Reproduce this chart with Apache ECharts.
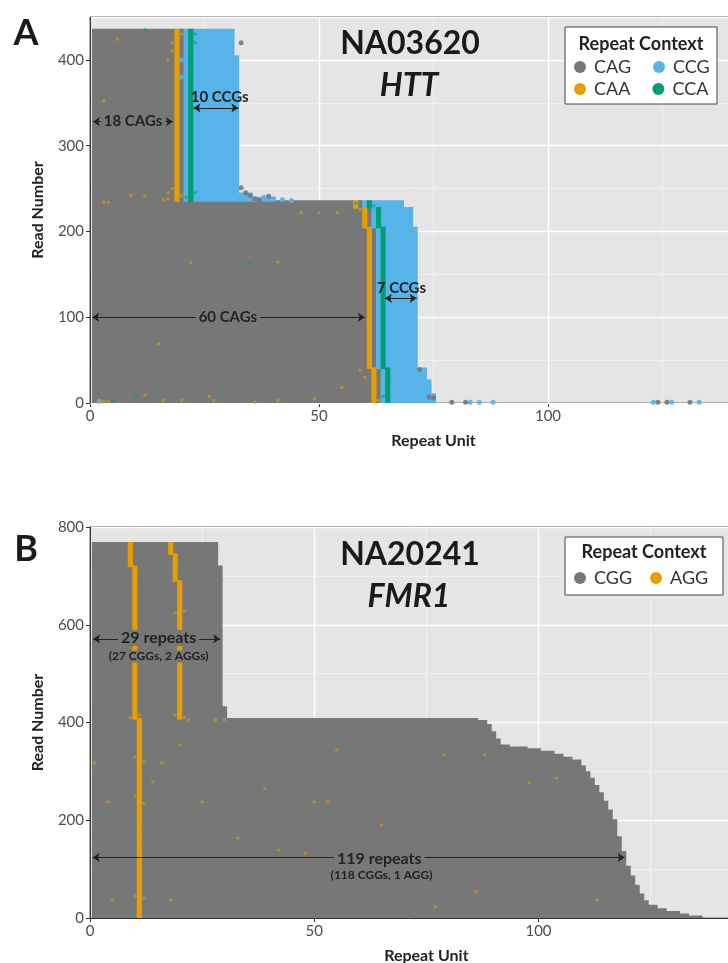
<!DOCTYPE html>
<html>
<head>
<meta charset="utf-8">
<script src="https://cdn.jsdelivr.net/npm/echarts@6/dist/echarts.min.js"></script>
<style>
  html, body { margin: 0; padding: 0; background: #fff; }
  #chart { width: 728px; height: 963px; }
</style>
</head>
<body>
<div id="chart"></div>
<script>
// ---- HTT (NA03620) ----
// read blocks: [firstRead, lastRead, CAG count, trailing CCG count]
// each read = CAG x n, CAA, CAG, CCG, CCA, CCG x m
const httBlocks = [
  [0, 10, 61, 10],
  [11, 26, 61, 9],
  [27, 40, 61, 8],
  [41, 204, 60, 7],
  [205, 227, 59, 7],
  [228, 235, 57, 7],
  [236, 239, 18, 18],
  [240, 244, 18, 13],
  [245, 404, 18, 10],
  [405, 435, 18, 9]
];
// scattered single calls [unit, read]
const httDotsCAG = [[33,251],[34,245],[35,242],[36,238],[37,236],[39,241],[72,39],[74,7],[75,6],[79,1],[82,1],[124,1],[126,1],[131,1],[33,420]];
const httDotsCAA = [[6,424],[3,352],[3,234],[4,234],[9,242],[12,241],[16,237],[17,245],[18,250],[20,242],[17,238],[22,164],[41,164],[46,222],[50,222],[54,222],[15,69],[59,38],[16,3],[20,3],[27,3],[41,3],[49,5],[2,1],[3,2],[4,2],[12,9],[26,8],[36,1],[55,18],[58,230],[59,226],[60,215],[60,30],[62,5],[63,3],[18,420],[18,410],[17,400],[20,430]];
const httDotsCCG = [[40,238],[42,237],[44,236],[38,240],[2,2],[83,1],[85,1],[88,1],[123,1],[127,1],[133,1],[74,15],[20,400],[20,380]];
const httDotsCCA = [[12,435],[10,9],[35,163],[21,240],[23,245],[22,236],[5,3],[58,233],[62,230],[65,2],[64,8],[23,420],[23,430]];

// ---- FMR1 (NA20241) ----
// read blocks: [firstRead, lastRead, read length, AGG positions...]
const fmrBlocks = [
  [0,3,136,11],[4,7,133,11],[8,12,131,11],[13,18,128,11],[19,25,126,11],[26,34,124,11],
  [35,48,123,11],[49,66,122,11],[67,85,121,11],[86,105,120,11],[106,135,119,11],[136,165,118,11],
  [166,200,117,11],[201,220,116,11],[221,238,115,11],[239,255,114,11],[256,270,113,11],[271,285,112,11],
  [286,298,111,11],[299,310,110,11],[311,322,109,11],[323,328,107,11],[329,334,105,11],[335,340,103,11],
  [341,345,100,11],[346,349,97,11],[350,353,93,11],[354,365,91,11],[366,380,90,11],[381,395,89,11],
  [396,403,88,11],[404,407,86,11],
  [408,431,30,10,20],[432,689,29,10,20],[690,719,29,10,19],[720,744,28,9,19],[745,767,28,9,18]
];
const fmrDotsAGG = [[1,317],[4,238],[14,279],[16,317],[20,354],[25,238],[33,163],[39,265],[42,139],[48,132],[50,238],[53,238],[55,344],[65,190],[79,334],[86,54],[88,334],[98,276],[104,286],[113,37],[5,37],[18,37],[77,23],[10,330],[12,320],[10,250],[12,235],[12,40],[10,45],[8,542],[19,624],[21,628],[28,405],[30,406],[11,415],[9,410],[19,415],[21,410],[22,405]];

const colors = { CAG: '#777777', CAA: '#E69F00', CCG: '#56B4E9', CCA: '#009E73', CGG: '#777777', AGG: '#E69F00' };
const FONT = 'Lato';

function httSegments() {
  let segs = { CAG: [], CAA: [], CCG: [], CCA: [] };
  httBlocks.forEach(function (b) {
    let r0 = b[0], r1 = b[1], n = b[2], m = b[3];
    segs.CAG.push([1, n, r0, r1]);
    segs.CAA.push([n + 1, n + 1, r0, r1]);
    segs.CAG.push([n + 2, n + 2, r0, r1]);
    segs.CCG.push([n + 3, n + 3, r0, r1]);
    segs.CCA.push([n + 4, n + 4, r0, r1]);
    segs.CCG.push([n + 5, n + 4 + m, r0, r1]);
  });
  return segs;
}
function fmrSegments() {
  let segs = { CGG: [], AGG: [] };
  fmrBlocks.forEach(function (b) {
    segs.CGG.push([1, b[2], b[0], b[1]]);
    for (let i = 3; i < b.length; i++) segs.AGG.push([b[i], b[i], b[0], b[1]]);
  });
  return segs;
}

// one rect per block of reads; a little overlap so neighbouring blocks leave no seam
function renderCells(params, api) {
  let a = api.coord([api.value(0) - 0.5, api.value(3) + 0.5]);
  let b = api.coord([api.value(1) + 0.5, api.value(2) - 0.5]);
  let shape = echarts.graphic.clipRectByRect(
    { x: a[0] - 0.3, y: a[1] - 0.8, width: b[0] - a[0] + 0.6, height: b[1] - a[1] + 1.6 },
    { x: params.coordSys.x, y: params.coordSys.y, width: params.coordSys.width, height: params.coordSys.height }
  );
  return shape && { type: 'rect', shape: shape, style: { fill: api.visual('color') } };
}

function cellSeries(name, data, gi) {
  return {
    name: name, type: 'custom', xAxisIndex: gi, yAxisIndex: gi === 0 ? 0 : 2,
    renderItem: renderCells, data: data, encode: { x: [0, 1], y: [2, 3] },
    itemStyle: { color: colors[name] }, silent: true
  };
}
function dotSeries(name, data, gi, size, op) {
  return {
    name: name, type: 'scatter', xAxisIndex: gi, yAxisIndex: gi === 0 ? 0 : 2,
    data: data, symbolSize: size, itemStyle: { color: colors[name], opacity: op }, silent: true
  };
}

const arrowStyle = { color: '#222', width: 1.1, type: 'solid' };
function arrows(list) {
  return {
    silent: true, symbol: ['arrow', 'arrow'], symbolSize: 7,
    label: { show: false }, lineStyle: arrowStyle, emphasis: { disabled: true },
    data: list.map(function (l) { return [{ coord: [l[0], l[2]] }, { coord: [l[1], l[2]] }]; })
  };
}
function notes(list) {
  return {
    silent: true, symbol: 'circle', symbolSize: 1, itemStyle: { color: 'rgba(0,0,0,0)' },
    data: list.map(function (n) {
      return {
        name: n[0], coord: [n[1], n[2]],
        label: {
          show: true, position: 'inside', formatter: '{b}', color: '#222', fontFamily: FONT,
          fontWeight: 'bold', fontSize: n[3], backgroundColor: n[4], padding: [0, 3]
        }
      };
    })
  };
}

const hs = httSegments();
const fs = fmrSegments();

let seriesA = [
  cellSeries('CAG', hs.CAG, 0), cellSeries('CCG', hs.CCG, 0),
  cellSeries('CAA', hs.CAA, 0), cellSeries('CCA', hs.CCA, 0),
  dotSeries('CAG', httDotsCAG, 0, 5, 0.9), dotSeries('CCG', httDotsCCG, 0, 5, 0.9),
  dotSeries('CAA', httDotsCAA, 0, 3.5, 0.6), dotSeries('CCA', httDotsCCA, 0, 3.5, 0.6)
];
seriesA[4].markLine = arrows([[0.65, 18.1, 328], [22.6, 32.4, 344], [0.5, 60.0, 100], [64.4, 71.3, 122]]);
seriesA[4].markPoint = notes([
  ['18 CAGs', 9.4, 328, 15, '#777777'], ['10 CCGs', 28.3, 356, 15, 'transparent'],
  ['60 CAGs', 30.1, 100, 15, '#777777'], ['7 CCGs', 68.0, 134, 15, 'transparent']
]);

let seriesB = [
  cellSeries('CGG', fs.CGG, 1), cellSeries('AGG', fs.AGG, 1),
  dotSeries('AGG', fmrDotsAGG, 1, 3.5, 0.55)
];
seriesB[2].markLine = arrows([[0.7, 29.0, 571], [0.6, 119.2, 124]]);
seriesB[2].markPoint = notes([
  ['29 repeats', 15.3, 573, 16, '#777777'], ['(27 CGGs, 2 AGGs)', 15.3, 535, 12, '#777777'],
  ['119 repeats', 64.5, 122, 16, '#777777'], ['(118 CGGs, 1 AGG)', 65.0, 88, 12, '#777777']
]);

const axisLabelStyle = { color: '#4d4d4d', fontSize: 15, fontFamily: FONT, margin: 6 };
const nameStyle = { color: '#222', fontSize: 16, fontWeight: 'bold', fontFamily: FONT };
const majorLine = { show: true, lineStyle: { color: '#ffffff', width: 1.4 } };
const minorLine = { show: true, lineStyle: { color: '#f3f3f3', width: 0.8 } };
const axisLine = { show: true, lineStyle: { color: '#333', width: 1 } };
const axisTick = { show: true, length: 4, lineStyle: { color: '#333' } };

function xAx(gi) {
  return {
    type: 'value', gridIndex: gi, min: 0, max: 150, interval: 50,
    name: 'Repeat Unit', nameLocation: 'middle', nameGap: 30, nameTextStyle: nameStyle,
    axisLine: axisLine, axisTick: axisTick, axisLabel: axisLabelStyle,
    splitLine: majorLine, minorTick: { show: false, splitNumber: 2 }, minorSplitLine: minorLine
  };
}

let option = {
  animation: false,
  backgroundColor: '#ffffff',
  textStyle: { fontFamily: FONT },
  grid: [
    { left: 90, top: 17, width: 687, height: 386, outerBoundsMode: 'none', containLabel: false, show: true, backgroundColor: '#e5e5e5', borderColor: '#3a3a3a', borderWidth: 1 },
    { left: 90, top: 527, width: 672.75, height: 391, outerBoundsMode: 'none', containLabel: false, show: true, backgroundColor: '#e5e5e5', borderColor: '#3a3a3a', borderWidth: 1 }
  ],
  xAxis: [xAx(0), xAx(1)],
  yAxis: [
    {
      type: 'value', gridIndex: 0, min: 0, max: 450, interval: 100, z: 1,
      name: 'Read Number', nameLocation: 'middle', nameGap: 44, nameTextStyle: nameStyle,
      axisLine: axisLine, axisTick: axisTick, axisLabel: Object.assign({ showMaxLabel: false }, axisLabelStyle),
      splitLine: majorLine
    },
    {
      type: 'value', gridIndex: 0, min: 0, max: 450, interval: 50, z: 0, position: 'left',
      axisLine: { show: false }, axisTick: { show: false }, axisLabel: { show: false },
      splitLine: minorLine
    },
    {
      type: 'value', gridIndex: 1, min: 0, max: 800, interval: 200,
      name: 'Read Number', nameLocation: 'middle', nameGap: 44, nameTextStyle: nameStyle,
      axisLine: axisLine, axisTick: axisTick, axisLabel: axisLabelStyle,
      splitLine: majorLine, minorTick: { show: false, splitNumber: 2 }, minorSplitLine: minorLine
    }
  ],
  legend: [
    { data: ['CAG', 'CCG'], left: 574, top: 58 },
    { data: ['CAA', 'CCA'], left: 574, top: 80 },
    { data: ['CGG', 'AGG'], left: 574, top: 569, itemGap: 18 }
  ].map(function (l) {
    return Object.assign({
      orient: 'horizontal', icon: 'circle', itemWidth: 18, itemHeight: 12, itemGap: 22,
      selectedMode: false, z: 20, padding: 0,
      textStyle: { fontSize: 18, color: '#333', fontFamily: FONT }
    }, l);
  }),
  graphic: [
    { type: 'rect', z: 10, shape: { x: 565, y: 27, width: 152, height: 77 }, style: { fill: '#fff', stroke: '#444', lineWidth: 1 } },
    { type: 'rect', z: 10, shape: { x: 565, y: 537, width: 158, height: 58 }, style: { fill: '#fff', stroke: '#444', lineWidth: 1 } },
    { type: 'text', z: 11, x: 641, y: 44, style: { text: 'Repeat Context', fill: '#222', font: 'bold 18px ' + FONT, textAlign: 'center', textVerticalAlign: 'middle' } },
    { type: 'text', z: 11, x: 644, y: 552, style: { text: 'Repeat Context', fill: '#222', font: 'bold 18px ' + FONT, textAlign: 'center', textVerticalAlign: 'middle' } },
    { type: 'text', z: 11, x: 410, y: 44, style: { text: 'NA03620', fill: '#1a1a1a', font: 'bold 32px ' + FONT, textAlign: 'center', textVerticalAlign: 'middle' } },
    { type: 'text', z: 11, x: 409, y: 86, style: { text: 'HTT', fill: '#1a1a1a', font: 'italic bold 32px ' + FONT, textAlign: 'center', textVerticalAlign: 'middle' } },
    { type: 'text', z: 11, x: 410, y: 555, style: { text: 'NA20241', fill: '#1a1a1a', font: 'bold 32px ' + FONT, textAlign: 'center', textVerticalAlign: 'middle' } },
    { type: 'text', z: 11, x: 409, y: 597, style: { text: 'FMR1', fill: '#1a1a1a', font: 'italic bold 32px ' + FONT, textAlign: 'center', textVerticalAlign: 'middle' } },
    { type: 'text', z: 11, x: 26, y: 33, style: { text: 'A', fill: '#1a1a1a', font: 'bold 36px ' + FONT, textAlign: 'center', textVerticalAlign: 'middle' } },
    { type: 'text', z: 11, x: 26, y: 549, style: { text: 'B', fill: '#1a1a1a', font: 'bold 36px ' + FONT, textAlign: 'center', textVerticalAlign: 'middle' } }
  ],
  series: seriesA.concat(seriesB)
};

let chart = echarts.init(document.getElementById('chart'), null, { renderer: 'canvas' });
chart.setOption(option);
</script>
</body>
</html>
